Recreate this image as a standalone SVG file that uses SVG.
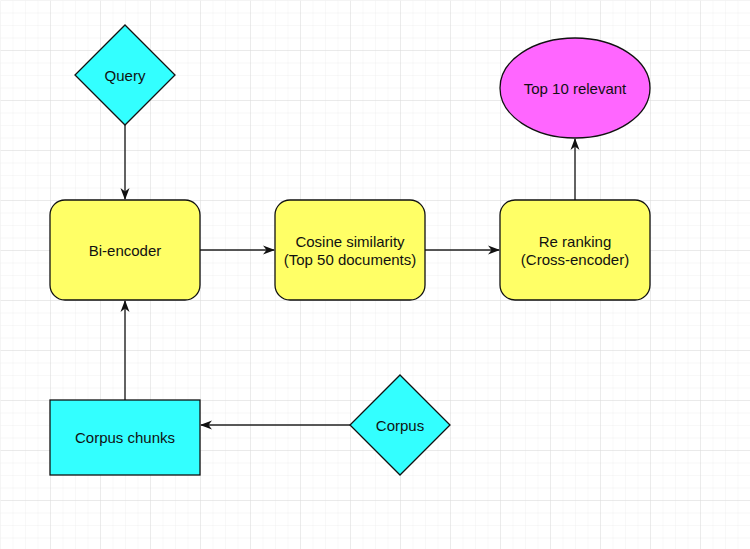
<svg xmlns="http://www.w3.org/2000/svg" width="750" height="549" viewBox="0 0 750 549">
  <defs>
    <pattern id="minor" width="12.5" height="12.5" patternUnits="userSpaceOnUse">
      <path d="M12.5 0H0V12.5" fill="none" stroke="#f0f0f0" stroke-width="1"/>
    </pattern>
    <pattern id="major" width="50" height="50" patternUnits="userSpaceOnUse">
      <rect width="50" height="50" fill="url(#minor)"/>
      <path d="M50 0H0V50" fill="none" stroke="#dcdcdc" stroke-width="1"/>
    </pattern>
    <marker id="arrow" viewBox="0 0 12 12" refX="11" refY="6" markerWidth="12" markerHeight="12" markerUnits="userSpaceOnUse" orient="auto">
      <path d="M0 1.5L12 6L0 10.5L3.5 6Z" fill="#111"/>
    </marker>
  </defs>
  <style>
    .edge { fill: none; stroke: #222; stroke-width: 1.4; marker-end: url(#arrow); }
    .shape { stroke: #111; stroke-width: 1.3; }
    .cyan { fill: #33ffff; }
    .yellow { fill: #ffff66; }
    .pink { fill: #ff66ff; }
    text { font-family: "Liberation Sans", Arial, sans-serif; font-size: 15px; fill: #111; text-anchor: middle; }
  </style>

  <!-- background grid -->
  <rect width="750" height="549" fill="#fff"/>
  <rect x="0.5" y="0.5" width="750" height="549" fill="url(#major)"/>

  <g id="connectors">
    <path class="edge" d="M125 125V199"/>
    <path class="edge" d="M200 250H274"/>
    <path class="edge" d="M425 250H499"/>
    <path class="edge" d="M575 200V139"/>
    <path class="edge" d="M125 400V301"/>
    <path class="edge" d="M350 425H201"/>
  </g>

  <g id="query">
    <polygon class="shape cyan" points="125,25 175,75 125,125 75,75"/>
    <text x="125" y="80.5">Query</text>
  </g>

  <g id="bi-encoder">
    <rect class="shape yellow" x="50" y="200" width="150" height="100" rx="15"/>
    <text x="125" y="255.5">Bi-encoder</text>
  </g>

  <g id="cosine">
    <rect class="shape yellow" x="275" y="200" width="150" height="100" rx="15"/>
    <text x="350" y="246.5">Cosine similarity</text>
    <text x="350" y="264.5">(Top 50 documents)</text>
  </g>

  <g id="reranking">
    <rect class="shape yellow" x="500" y="200" width="150" height="100" rx="15"/>
    <text x="575" y="246.5">Re ranking</text>
    <text x="575" y="264.5">(Cross-encoder)</text>
  </g>

  <g id="top10">
    <ellipse class="shape pink" cx="575" cy="88" rx="75" ry="50"/>
    <text x="575" y="93.5">Top 10 relevant</text>
  </g>

  <g id="corpus-chunks">
    <rect class="shape cyan" x="50" y="400" width="150" height="75"/>
    <text x="125" y="443">Corpus chunks</text>
  </g>

  <g id="corpus">
    <polygon class="shape cyan" points="400,375 450,425 400,475 350,425"/>
    <text x="400" y="430.5">Corpus</text>
  </g>
</svg>
